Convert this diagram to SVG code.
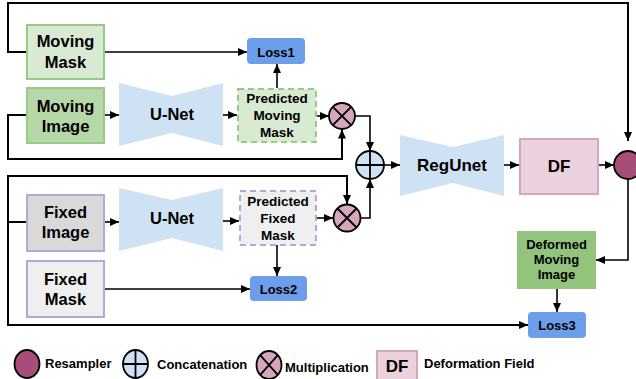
<svg xmlns="http://www.w3.org/2000/svg" width="636" height="379" viewBox="0 0 636 379">
<defs>
<marker id="arr" viewBox="0 0 9 8" refX="9" refY="4" markerWidth="9" markerHeight="8" markerUnits="userSpaceOnUse" orient="auto">
<path d="M0,0 L9,4 L0,8 z" fill="#000"/>
</marker>
<style>
text{font-family:"Liberation Sans",Arial,sans-serif;font-weight:bold;fill:#000;text-anchor:middle}
.big{font-size:16.5px}
.mid{font-size:13.5px}
.sm{font-size:13px}
.leg{font-size:13px;text-anchor:start}
.c{fill:none;stroke:#000;stroke-width:1.6}
.ca{fill:none;stroke:#000;stroke-width:1.6;marker-end:url(#arr)}
.loop{fill:none;stroke:#000;stroke-width:2}
.loss{fill:#6d9eeb}
.unet{fill:#cfe2f3}
.green{stroke:#97c987;stroke-width:2}
.purple{stroke:#b4a7d6;stroke-width:2}
.mul{fill:#d5a6bd;stroke:#000;stroke-width:1.8}
.cat{fill:#cfe2f3;stroke:#000;stroke-width:1.8}
.res{fill:#a64d79;stroke:#000;stroke-width:1.8}
.sym{stroke:#000;stroke-width:1.8}
</style>
</defs>
<rect width="636" height="379" fill="#fff"/>

<g id="connectors">
<polyline class="loop" points="26,52 8,52 8,3 628,3 628,141" marker-end="url(#arr)"/>
<line class="ca" x1="104" y1="52" x2="247" y2="52"/>
<line class="ca" x1="104" y1="115" x2="119" y2="115"/>
<line class="ca" x1="223" y1="115" x2="237" y2="115"/>
<line class="ca" x1="277" y1="88" x2="277" y2="64"/>
<line class="ca" x1="316" y1="116" x2="329" y2="116"/>
<polyline class="loop" points="26,115 8,115 8,159 342,159 342,129.5" marker-end="url(#arr)"/>
<polyline class="ca" points="355,116 370,116 370,151"/>
<line class="ca" x1="384" y1="165" x2="400" y2="165"/>
<line class="ca" x1="504" y1="165" x2="519" y2="165"/>
<line class="ca" x1="598" y1="165" x2="614" y2="165"/>
<polyline class="ca" points="628,179 628,260 596,260"/>
<line class="ca" x1="557" y1="289" x2="557" y2="312"/>
<polyline class="loop" points="26,222 8,222"/>
<polyline class="loop" points="347,204 347,176 8,176 8,325 528,325" style="marker-end:url(#arr)"/>
<line class="loop" x1="347" y1="176" x2="347" y2="204" marker-end="url(#arr)"/>
<line class="ca" x1="104" y1="222" x2="119" y2="222"/>
<line class="ca" x1="223" y1="221" x2="239" y2="221"/>
<line class="ca" x1="316" y1="218" x2="333" y2="218"/>
<line class="ca" x1="277" y1="245" x2="277" y2="276"/>
<line class="ca" x1="104" y1="289" x2="250" y2="289"/>
<polyline class="ca" points="361,218 370,218 370,179"/>
</g>

<g id="moving-mask">
<rect x="27" y="25" width="77" height="54" fill="#d9ead3" class="green"/>
<text class="big" x="65.5" y="47">Moving</text>
<text class="big" x="65.5" y="67.5">Mask</text>
</g>
<g id="moving-image">
<rect x="27" y="88" width="77" height="55" fill="#b6d7a8" class="green"/>
<text class="big" x="65.5" y="111.5">Moving</text>
<text class="big" x="65.5" y="131.5">Image</text>
</g>
<g id="unet1">
<polygon class="unet" points="119,83 172,96 223,83 223,146 172,133 119,146"/>
<text class="big" x="172" y="120">U-Net</text>
</g>
<g id="pred-moving-mask">
<rect x="238" y="89" width="78" height="53" fill="#d9ead3" stroke="#97c987" stroke-width="2" stroke-dasharray="6,4"/>
<text class="mid" x="277" y="103">Predicted</text>
<text class="mid" x="277" y="120">Moving</text>
<text class="mid" x="277" y="137">Mask</text>
</g>
<g id="loss1">
<rect class="loss" x="247" y="38" width="58" height="26" rx="4"/>
<text class="sm" x="276" y="56.5">Loss1</text>
</g>
<g id="mult1">
<circle class="mul" cx="342" cy="116" r="13"/>
<path class="sym" d="M332.8,106.8 L351.2,125.2 M351.2,106.8 L332.8,125.2"/>
</g>
<g id="concat">
<circle class="cat" cx="370" cy="165" r="14"/>
<path class="sym" d="M356,165 H384 M370,151 V179"/>
</g>
<g id="regunet">
<polygon class="unet" points="400,135 453,147 504,135 504,196 453,183 400,196"/>
<text class="big" x="452" y="171" style="font-size:17px">RegUnet</text>
</g>
<g id="df">
<rect x="520" y="139" width="78" height="55" fill="#ead1dc" stroke="#d5a6bd" stroke-width="2"/>
<text class="big" x="559" y="172" style="font-size:17px">DF</text>
</g>
<g id="resampler">
<circle class="res" cx="628" cy="165" r="14"/>
</g>
<g id="deformed-moving-image">
<rect x="517" y="231" width="79" height="58" fill="#93c47d"/>
<text class="sm" x="556.5" y="249">Deformed</text>
<text class="sm" x="556.5" y="264">Moving</text>
<text class="sm" x="556.5" y="279">Image</text>
</g>
<g id="loss3">
<rect class="loss" x="528" y="312" width="58" height="26" rx="4"/>
<text class="sm" x="557" y="330">Loss3</text>
</g>
<g id="fixed-image">
<rect x="27" y="195" width="77" height="56" fill="#d9d9d9" class="purple"/>
<text class="big" x="65.5" y="218">Fixed</text>
<text class="big" x="65.5" y="238">Image</text>
</g>
<g id="unet2">
<polygon class="unet" points="119,188 172,200 223,188 223,251 172,238 119,251"/>
<text class="big" x="172" y="224">U-Net</text>
</g>
<g id="pred-fixed-mask">
<rect x="240" y="191" width="76" height="54" fill="#efefef" stroke="#b4a7d6" stroke-width="2" stroke-dasharray="6,4"/>
<text class="mid" x="278" y="206">Predicted</text>
<text class="mid" x="278" y="223">Fixed</text>
<text class="mid" x="278" y="240">Mask</text>
</g>
<g id="mult2">
<circle class="mul" cx="347" cy="218" r="13.5"/>
<path class="sym" d="M337.5,208.5 L356.5,227.5 M356.5,208.5 L337.5,227.5"/>
</g>
<g id="fixed-mask">
<rect x="27" y="261" width="77" height="56" fill="#efefef" class="purple"/>
<text class="big" x="65.5" y="285">Fixed</text>
<text class="big" x="65.5" y="305">Mask</text>
</g>
<g id="loss2">
<rect class="loss" x="250" y="276" width="57" height="25" rx="4"/>
<text class="sm" x="278.5" y="293.5">Loss2</text>
</g>

<g id="legend">
<ellipse class="res" cx="27" cy="364" rx="12.5" ry="14"/>
<text class="leg" x="45" y="368">Resampler</text>
<ellipse class="cat" cx="135.5" cy="364" rx="12.5" ry="14"/>
<path class="sym" d="M123,364 H148 M135.5,350 V378"/>
<text class="leg" x="157" y="369">Concatenation</text>
<ellipse class="mul" cx="269" cy="365" rx="12.5" ry="14"/>
<path class="sym" d="M260.2,355.1 L277.8,374.9 M277.8,355.1 L260.2,374.9"/>
<text class="leg" x="285" y="372">Multiplication</text>
<rect x="377" y="351" width="40" height="32" fill="#ead1dc" stroke="#d5a6bd" stroke-width="2"/>
<text x="397" y="372" style="font-size:17px">DF</text>
<text class="leg" x="424" y="368">Deformation Field</text>
</g>
</svg>
